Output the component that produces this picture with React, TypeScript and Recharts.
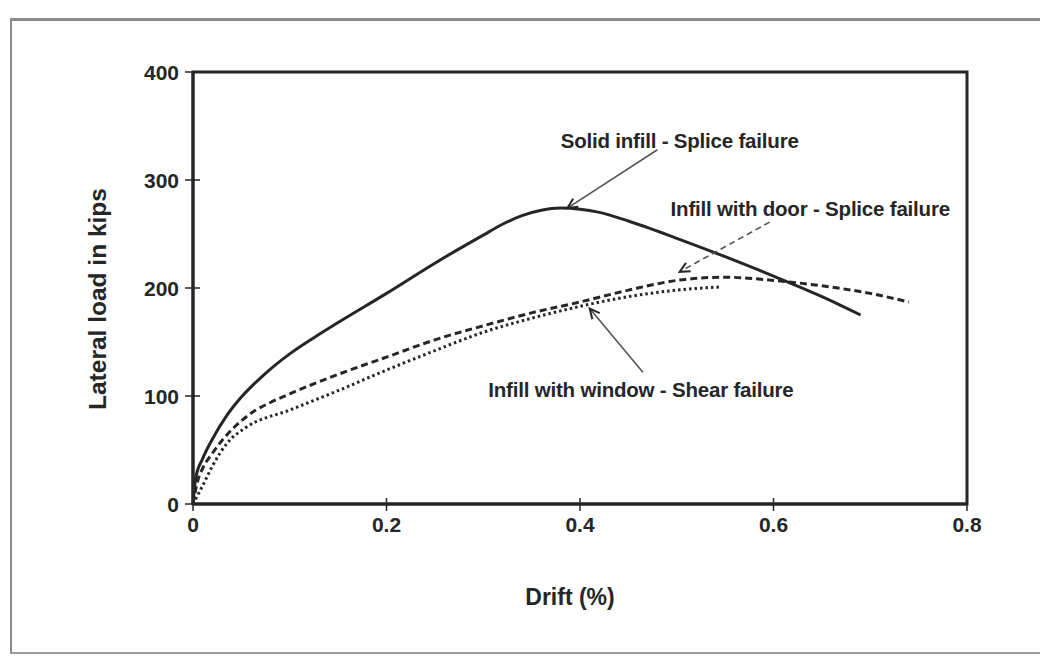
import {
  LineChart,
  Line,
  XAxis,
  YAxis,
  ReferenceArea,
  ReferenceLine,
  ReferenceDot,
} from "recharts";

// drift (%) vs lateral load (kips)
const solidInfill = [
  { drift: 0, load: 0 },
  { drift: 0.003, load: 25 },
  { drift: 0.01, load: 42 },
  { drift: 0.02, load: 60 },
  { drift: 0.035, load: 82 },
  { drift: 0.05, load: 99 },
  { drift: 0.075, load: 121 },
  { drift: 0.1, load: 139 },
  { drift: 0.125, load: 154 },
  { drift: 0.15, load: 168 },
  { drift: 0.2, load: 195 },
  { drift: 0.25, load: 223 },
  { drift: 0.3, load: 249 },
  { drift: 0.32, load: 259 },
  { drift: 0.34, load: 267 },
  { drift: 0.36, load: 272 },
  { drift: 0.38, load: 274 },
  { drift: 0.4, load: 273 },
  { drift: 0.42, load: 270 },
  { drift: 0.45, load: 262 },
  { drift: 0.5, load: 246 },
  { drift: 0.55, load: 229 },
  { drift: 0.6, load: 211 },
  { drift: 0.65, load: 192 },
  { drift: 0.69, load: 175 },
];

const doorInfill = [
  { drift: 0, load: 0 },
  { drift: 0.005, load: 22 },
  { drift: 0.01, load: 33 },
  { drift: 0.02, load: 47 },
  { drift: 0.035, load: 64 },
  { drift: 0.05, load: 77 },
  { drift: 0.065, load: 87 },
  { drift: 0.08, load: 94 },
  { drift: 0.1, load: 102 },
  { drift: 0.15, load: 120 },
  { drift: 0.2, load: 136 },
  { drift: 0.25, load: 152 },
  { drift: 0.3, load: 165 },
  { drift: 0.35, load: 177 },
  { drift: 0.4, load: 187 },
  { drift: 0.45, load: 198 },
  { drift: 0.5, load: 207 },
  { drift: 0.55, load: 210 },
  { drift: 0.6, load: 207 },
  { drift: 0.65, load: 202 },
  { drift: 0.7, load: 195 },
  { drift: 0.74, load: 187 },
];

const windowInfill = [
  { drift: 0, load: 0 },
  { drift: 0.01, load: 17 },
  { drift: 0.02, load: 35 },
  { drift: 0.035, load: 56 },
  { drift: 0.055, load: 71 },
  { drift: 0.1, load: 87 },
  { drift: 0.15, load: 105 },
  { drift: 0.2, load: 124 },
  { drift: 0.25, load: 142 },
  { drift: 0.3, load: 159 },
  { drift: 0.35, load: 172 },
  { drift: 0.4, load: 183 },
  { drift: 0.45, load: 192 },
  { drift: 0.5, load: 198 },
  { drift: 0.545, load: 201 },
];

const xTicks = [0, 0.2, 0.4, 0.6, 0.8];
const yTicks = [0, 100, 200, 300, 400];

const notes = [
  { text: "Solid infill - Splice failure", x: 0.503, y: 337, from: [0.48, 328], to: [0.387, 274], dashed: false },
  { text: "Infill with door - Splice failure", x: 0.638, y: 274, from: [0.596, 261], to: [0.503, 215], dashed: true },
  { text: "Infill with window - Shear failure", x: 0.463, y: 106, from: [0.465, 122], to: [0.41, 181], dashed: false },
];

const ink = "#262626";
const font = "'Liberation Sans', Arial, sans-serif";
const tickFont = { fill: ink, fontSize: 21, fontWeight: 700, fontFamily: font };

function Arrow(props: any) {
  const { x1, y1, x2, y2, dashed } = props;
  const ang = Math.atan2(y2 - y1, x2 - x1);
  const len = 11;
  const spread = 0.45;
  const ax = x2 - len * Math.cos(ang - spread);
  const ay = y2 - len * Math.sin(ang - spread);
  const bx = x2 - len * Math.cos(ang + spread);
  const by = y2 - len * Math.sin(ang + spread);
  return (
    <g stroke="#555" strokeWidth={1.6} fill="none">
      <line x1={x1} y1={y1} x2={x2} y2={y2} strokeDasharray={dashed ? "6 4" : undefined} />
      <polyline points={`${ax},${ay} ${x2},${y2} ${bx},${by}`} stroke={ink} strokeWidth={2} />
    </g>
  );
}

// tick marks cross the axis line, so draw them with the label
function XTick(props: any) {
  const { x, y, payload } = props;
  const axisY = y - 13;
  return (
    <g>
      <line x1={x} x2={x} y1={axisY - 6} y2={axisY + 7} stroke={ink} strokeWidth={1.5} />
      <text x={x} y={y} dy="0.72em" textAnchor="middle" {...tickFont}>
        {payload.value}
      </text>
    </g>
  );
}

function YTick(props: any) {
  const { x, y, payload } = props;
  const axisX = x + 14;
  return (
    <g>
      <line x1={axisX - 8} x2={axisX + 7} y1={y} y2={y} stroke={ink} strokeWidth={1.5} />
      <text x={x} y={y} dy="0.36em" textAnchor="end" {...tickFont}>
        {payload.value}
      </text>
    </g>
  );
}

export default function App() {
  return (
    <div style={{ position: "absolute", left: 0, top: 0, width: 1040, height: 658, background: "#fff" }}>
      <div
        style={{
          position: "absolute",
          left: 10,
          top: 18,
          width: 1040,
          height: 636,
          borderLeft: "2px solid #8a8a8a",
          borderTop: "3px solid #8a8a8a",
          borderBottom: "2px solid #9a9a9a",
          boxSizing: "border-box",
        }}
      />
      <div style={{ position: "absolute", left: 0, top: 0 }}>
        <LineChart width={1040} height={658} margin={{ top: 72, right: 73, bottom: 44, left: 83 }}>
          <XAxis
            dataKey="drift"
            type="number"
            domain={[0, 0.8]}
            ticks={xTicks}
            allowDuplicatedCategory={false}
            height={110}
            tickSize={8}
            tickMargin={5}
            stroke={ink}
            tickLine={false}
            axisLine={{ stroke: ink, strokeWidth: 3 }}
            tick={<XTick />}
            label={{
              content: ({ viewBox }: any) => (
                <text
                  x={viewBox.x + viewBox.width / 2 - 10}
                  y={597}
                  textAnchor="middle"
                  dominantBaseline="central"
                  fill={ink}
                  fontSize={23}
                  fontWeight={700}
                  fontFamily={font}
                >
                  Drift (%)
                </text>
              ),
            }}
          />
          <YAxis
            type="number"
            domain={[0, 400]}
            ticks={yTicks}
            width={110}
            tickSize={8}
            tickMargin={6}
            stroke={ink}
            tickLine={false}
            axisLine={{ stroke: ink, strokeWidth: 3 }}
            tick={<YTick />}
            label={{
              content: ({ viewBox }: any) => {
                const cx = viewBox.x + 14;
                const cy = viewBox.y + viewBox.height / 2 + 11;
                return (
                  <text
                    x={cx}
                    y={cy}
                    transform={`rotate(-90 ${cx} ${cy})`}
                    textAnchor="middle"
                    dominantBaseline="central"
                    fill={ink}
                    fontSize={24.5}
                    fontWeight={700}
                    fontFamily={font}
                  >
                    Lateral load in kips
                  </text>
                );
              },
            }}
          />
          <ReferenceArea x1={0} x2={0.8} y1={0} y2={400} fill="none" stroke={ink} strokeWidth={3} ifOverflow="visible" />
          <Line
            data={solidInfill}
            dataKey="load"
            type="monotone"
            stroke={ink}
            strokeWidth={3}
            dot={false}
            isAnimationActive={false}
          />
          <Line
            data={doorInfill}
            dataKey="load"
            type="monotone"
            stroke={ink}
            strokeWidth={3}
            strokeDasharray="7 4"
            dot={false}
            isAnimationActive={false}
          />
          <Line
            data={windowInfill}
            dataKey="load"
            type="monotone"
            stroke={ink}
            strokeWidth={3}
            strokeDasharray="2.5 3"
            dot={false}
            isAnimationActive={false}
          />
          {notes.map((n) => (
            <ReferenceLine
              key={`arrow-${n.text}`}
              segment={[
                { x: n.from[0], y: n.from[1] },
                { x: n.to[0], y: n.to[1] },
              ]}
              ifOverflow="visible"
              shape={(p: any) => <Arrow {...p} dashed={n.dashed} />}
            />
          ))}
          {notes.map((n) => (
            <ReferenceDot
              key={`note-${n.text}`}
              x={n.x}
              y={n.y}
              r={0}
              ifOverflow="visible"
              shape={(p: any) => (
                <text
                  x={p.cx}
                  y={p.cy}
                  textAnchor="middle"
                  dominantBaseline="central"
                  fill={ink}
                  fontSize={20.5}
                  fontWeight={700}
                  fontFamily={font}
                  letterSpacing={-0.2}
                >
                  {n.text}
                </text>
              )}
            />
          ))}
        </LineChart>
      </div>
    </div>
  );
}
